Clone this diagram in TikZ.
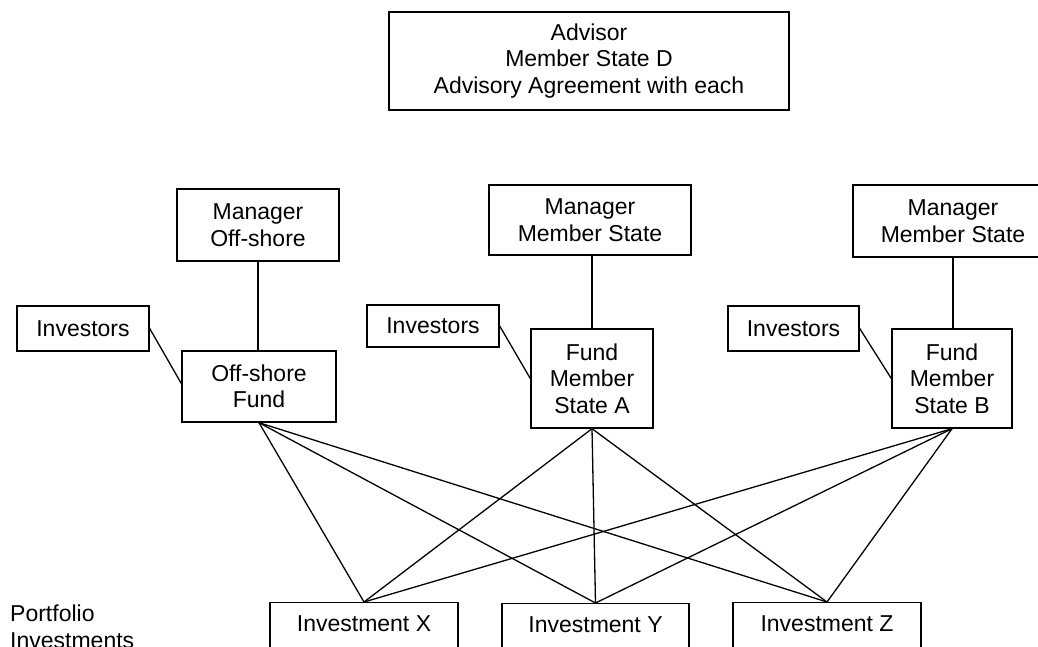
\documentclass[tikz,border=0pt]{standalone}
\usepackage{fontspec}
\setmainfont{Liberation Sans}
\begin{document}
\begin{tikzpicture}[x=1pt,y=-1pt,
  box/.style={draw, line width=1.4pt, inner sep=0pt, align=center,
    font=\fontsize{23}{26.5}\selectfont},
  link/.style={line width=1.3pt},
  lbl/.style={inner sep=0pt, align=left, font=\fontsize{23}{26.5}\selectfont}]
\clip (0,0) rectangle (1038,646);
\fill[white] (0,0) rectangle (1038,646);
% top advisor
\node[box, minimum width=400pt, minimum height=98pt] (adv) at (589,61)
  {Advisor\\Member State D\\Advisory Agreement with each};
% managers
\node[box, minimum width=162pt, minimum height=72pt] (mgrO) at (258,225) {Manager\\Off-shore};
\node[box, minimum width=202pt, minimum height=70pt] (mgrA) at (590,220) {Manager\\Member State};
\node[box, minimum width=200pt, minimum height=72pt] (mgrB) at (953,221) {Manager\\Member State};
% investors
\node[box, minimum width=132pt, minimum height=45pt] (invO) at (83,328.5) {Investors};
\node[box, minimum width=132pt, minimum height=42pt] (invA) at (433,326) {Investors};
\node[box, minimum width=131pt, minimum height=45pt] (invB) at (793.5,328.5) {Investors};
% funds
\node[box, minimum width=154pt, minimum height=71pt] (fundO) at (259,386.5) {Off-shore\\Fund};
\node[box, minimum width=122pt, minimum height=99pt] (fundA) at (592,378.5) {Fund\\Member\\State A};
\node[box, minimum width=120pt, minimum height=99pt] (fundB) at (952,378.5) {Fund\\Member\\State B};
% investments
\tikzset{inv/.style={box, anchor=north, minimum width=188pt, text height=29pt, text depth=30pt}}
\node[inv] (invX) at (364,602) {Investment X};
\node[inv, minimum width=187pt] (invY) at (595.5,603) {Investment Y};
\node[inv, minimum width=188pt] (invZ) at (827,602) {Investment Z};
% label
\node[lbl, anchor=west] (port) at (10,627) {Portfolio\\Investments};
% manager-fund links
\draw[link] (mgrO.south) -- (mgrO.south |- fundO.north);
\draw[link] (fundA.north) -- (fundA.north |- mgrA.south);
\draw[link] (mgrB.south) -- (mgrB.south |- fundB.north);
% investors links
\draw[link] (invO.east) -- ([yshift=3pt]fundO.west);
\draw[link] (invA.east) -- (fundA.west);
\draw[link] (invB.east) -- (fundB.west);
% fund-investment links
\foreach \f in {fundO,fundA,fundB}{
  \foreach \i in {invX,invY,invZ}{
    \draw[link] (\f.south) -- (\i.north);
  }
}
\end{tikzpicture}
\end{document}
